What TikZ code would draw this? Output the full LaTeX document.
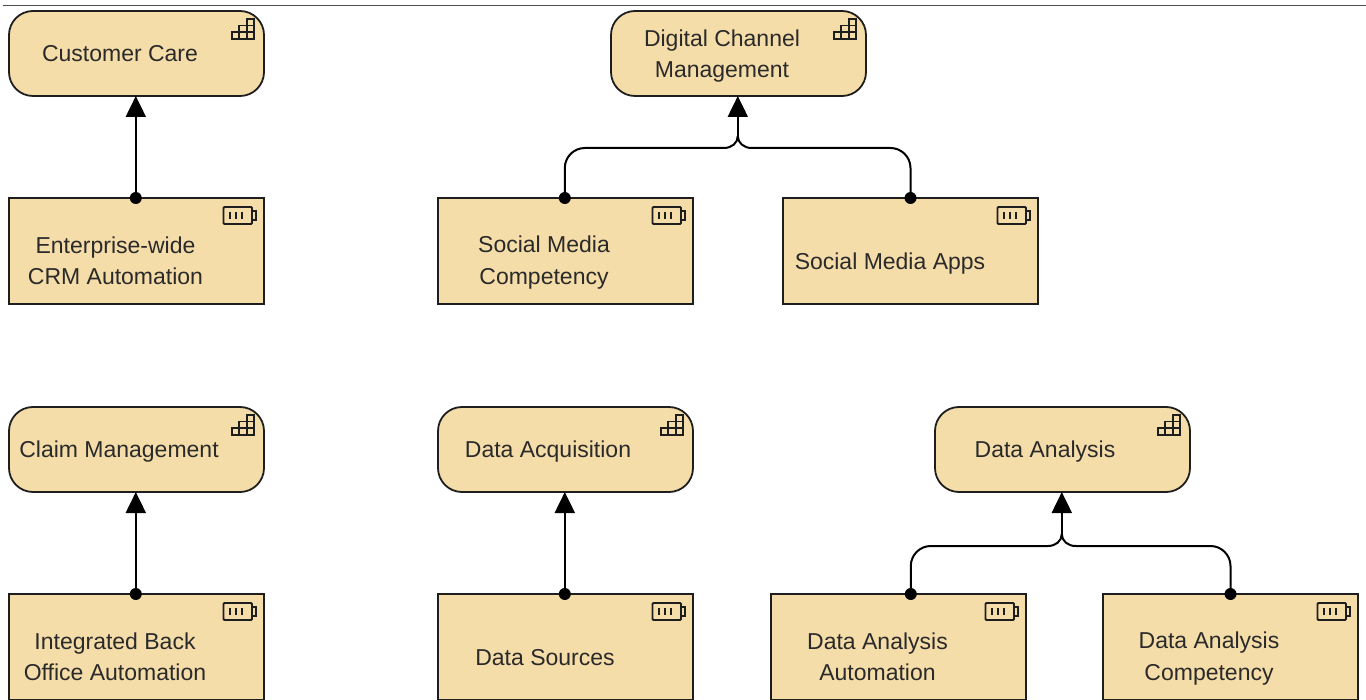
\documentclass[tikz,border=0pt]{standalone}
\usepackage{fontspec}
\setmainfont{Liberation Sans}
\usetikzlibrary{calc,arrows.meta}
\definecolor{boxfill}{HTML}{F5DDA9}
\definecolor{inkline}{HTML}{1E1E1E}
\definecolor{inktext}{HTML}{2A2A2A}
\tikzset{
  x=1pt,y=-1pt,
  capbox/.style={draw=inkline,fill=boxfill,line width=1.8pt,rounded corners=24pt,minimum width=255pt,minimum height=85pt,inner sep=0pt,outer sep=0pt},
  resbox/.style={draw=inkline,fill=boxfill,line width=1.8pt,minimum width=255pt,minimum height=106pt,inner sep=0pt,outer sep=0pt},
  lbl/.style={text=inktext,font=\fontsize{23}{31.5}\selectfont,align=center,inner sep=0pt},
  icon/.style={draw=inkline,line width=1.8pt},
  realize/.style={draw=black,line width=2pt,-{Triangle[length=21pt,width=20pt]}},
  stem/.style={draw=black,line width=2pt},
  startdot/.style={circle,fill=black,minimum size=12pt,inner sep=0pt}
}
% capability icon: stepped grid, placed from the box's upper right corner
\newcommand{\capicon}[1]{%
  \begin{scope}[shift={(#1.north east)}]
    \draw[icon] (-32,28) rectangle (-10,21.3);
    \draw[icon] (-24.7,21.3) rectangle (-10,14.6);
    \draw[icon] (-17.3,14.6) rectangle (-10,8);
    \draw[icon] (-24.7,21.3) -- (-24.7,28) (-17.3,14.6) -- (-17.3,28);
  \end{scope}}
% resource icon: battery, placed from the box's upper right corner
\newcommand{\resicon}[1]{%
  \begin{scope}[shift={(#1.north east)}]
    \draw[icon,rounded corners=1pt] (-40.5,9) rectangle (-12,26);
    \draw[icon] (-12,13) -- (-8,13) -- (-8,22) -- (-12,22);
    \draw[icon] (-34,14) -- (-34,21) (-28,14) -- (-28,21) (-22,14) -- (-22,21);
  \end{scope}}
\begin{document}
\begin{tikzpicture}
\useasboundingbox (0,0) rectangle (1366,700);
\fill[white] (0,0) rectangle (1366,700);
\draw[draw=black!70,line width=1.2pt] (3,5.5) -- (1366,5.5);

\node[capbox] (care) at (136.5,53.5) {};
\node[resbox] (crm) at (136.5,251) {};
\node[capbox] (digital) at (738.5,53.5) {};
\node[resbox] (smc) at (565.5,251) {};
\node[resbox] (sma) at (910.5,251) {};
\node[capbox] (claim) at (136.5,449.5) {};
\node[resbox] (ibo) at (136.5,647) {};
\node[capbox] (acq) at (565.5,449.5) {};
\node[resbox] (src) at (565.5,647) {};
\node[capbox] (ana) at (1062.5,449.5) {};
\node[resbox] (daa) at (898.5,647) {};
\node[resbox] (dac) at (1230.5,647) {};

\node[lbl] (t1) at (120,54) {Customer Care};
\node[lbl] (t2) at (722,56) {Digital Channel\\Management};
\node[lbl] (t3) at (115.5,261) {Enterprise-wide\\CRM Automation};
\node[lbl] (t4) at (544,262.5) {Social Media\\Competency};
\node[lbl] (t5) at (890,263.5) {Social Media Apps};
\node[lbl] (t6) at (119,452) {Claim Management};
\node[lbl] (t7) at (548,452) {Data Acquisition};
\node[lbl] (t8) at (1045,451.5) {Data Analysis};
\node[lbl] (t9) at (115,657) {Integrated Back\\Office Automation};
\node[lbl] (t10) at (545,658) {Data Sources};
\node[lbl] (t11) at (877.5,657) {Data Analysis\\Automation};
\node[lbl] (t12) at (1209,658.5) {Data Analysis\\Competency};

\foreach \n in {care,digital,claim,acq,ana} {\capicon{\n}}
\foreach \n in {crm,smc,sma,ibo,src,daa,dac} {\resicon{\n}}

% straight connectors
\draw[realize] ($(crm.north)+(-0.7,0)$) -- ($(care.south)+(-0.7,0)$);
\draw[realize] ($(ibo.north)+(-0.7,0)$) -- ($(claim.south)+(-0.7,0)$);
\draw[realize] ($(src.north)+(-0.7,0)$) -- ($(acq.south)+(-0.7,0)$);
\node[startdot] (d1) at ($(crm.north)+(-0.7,0)$) {};
\node[startdot] (d2) at ($(ibo.north)+(-0.7,0)$) {};
\node[startdot] (d3) at ($(src.north)+(-0.7,0)$) {};

% branching connectors
\coordinate (s1) at ($(smc.north)+(-0.7,0)$);
\coordinate (s2) at (sma.north);
\coordinate (s3) at ($(daa.north)+(12.3,0)$);
\coordinate (s4) at (dac.north);
\coordinate (j1) at ($(digital.south |- 0,148)+(-0.7,0)$);
\coordinate (j2) at ($(ana.south |- 0,546)+(-0.7,0)$);

\draw[stem] (s1) -- ($(s1 |- j1)+(0,20)$) .. controls ($(s1 |- j1)+(0,9)$) and ($(s1 |- j1)+(9,0)$) .. ($(s1 |- j1)+(20,0)$)
  -- ($(j1)+(-14,0)$) .. controls ($(j1)+(-6,0)$) and ($(j1)+(0,-5)$) .. ($(j1)+(0,-12)$);
\draw[stem] (s2) -- ($(s2 |- j1)+(0,20)$) .. controls ($(s2 |- j1)+(0,9)$) and ($(s2 |- j1)+(-9,0)$) .. ($(s2 |- j1)+(-20,0)$)
  -- ($(j1)+(14,0)$) .. controls ($(j1)+(6,0)$) and ($(j1)+(0,-5)$) .. ($(j1)+(0,-12)$);
\draw[realize] ($(j1)+(0,-12)$) -- ($(digital.south)+(-0.7,0)$);

\draw[stem] (s3) -- ($(s3 |- j2)+(0,20)$) .. controls ($(s3 |- j2)+(0,9)$) and ($(s3 |- j2)+(9,0)$) .. ($(s3 |- j2)+(20,0)$)
  -- ($(j2)+(-14,0)$) .. controls ($(j2)+(-6,0)$) and ($(j2)+(0,-5)$) .. ($(j2)+(0,-12)$);
\draw[stem] (s4) -- ($(s4 |- j2)+(0,20)$) .. controls ($(s4 |- j2)+(0,9)$) and ($(s4 |- j2)+(-9,0)$) .. ($(s4 |- j2)+(-20,0)$)
  -- ($(j2)+(14,0)$) .. controls ($(j2)+(6,0)$) and ($(j2)+(0,-5)$) .. ($(j2)+(0,-12)$);
\draw[realize] ($(j2)+(0,-12)$) -- ($(ana.south)+(-0.7,0)$);

\node[startdot] (d4) at (s1) {};
\node[startdot] (d5) at (s2) {};
\node[startdot] (d6) at (s3) {};
\node[startdot] (d7) at (s4) {};
\end{tikzpicture}
\end{document}
